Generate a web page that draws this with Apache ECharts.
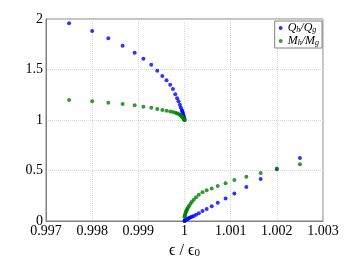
<!DOCTYPE html>
<html><head><meta charset="utf-8">
<script src="https://cdn.jsdelivr.net/npm/echarts@6/dist/echarts.min.js"></script>
<style>html,body{margin:0;padding:0;background:#fff}#c{width:357px;height:257px}</style>
</head><body><div id="c"></div>
<script>
// x-values of the branch below 1 and the branch above 1
const xLeft  = [0.9975,0.998,0.99835,0.99866,0.99892,0.99911,0.99928,0.99941,0.99952,0.99961,0.99969,0.99975,0.9998,0.99984,0.99987,0.9999,0.99992,0.99994,0.99995,0.99996,0.99997,0.99998,0.99999,0.999995,1.0];
const qLeft  = [1.957,1.88,1.81,1.736,1.667,1.607,1.548,1.488,1.436,1.393,1.35,1.307,1.255,1.215,1.185,1.15,1.125,1.1,1.088,1.075,1.06,1.045,1.028,1.015,1.0];
const mLeft  = [1.198,1.185,1.171,1.158,1.145,1.132,1.122,1.109,1.099,1.092,1.085,1.078,1.072,1.066,1.06,1.052,1.046,1.038,1.033,1.027,1.021,1.015,1.008,1.004,1.0];
const xRight = [1.0025,1.002,1.00165,1.00134,1.00108,1.00089,1.00072,1.00059,1.00048,1.00039,1.00031,1.00025,1.0002,1.00016,1.00013,1.0001,1.00008,1.00006,1.00005,1.00004,1.00003,1.00002,1.00001,1.000005,1.0];
const qRight = [0.624,0.512,0.415,0.337,0.272,0.222,0.18,0.147,0.12,0.098,0.077,0.062,0.05,0.042,0.036,0.03,0.025,0.02,0.017,0.014,0.011,0.008,0.004,0.002,0.0];
const mRight = [0.561,0.52,0.475,0.439,0.406,0.373,0.347,0.323,0.304,0.285,0.26,0.235,0.21,0.19,0.172,0.152,0.137,0.12,0.11,0.1,0.088,0.075,0.06,0.05,0.04];
const xTicks = [0.997,0.998,0.999,1,1.001,1.002,1.003];
const yTicks = [0,0.5,1,1.5,2];
const seriesNames = ['Qh/Qg','Mh/Mg'];

const pairs = (xs, ys) => xs.map((x, i) => [x, ys[i]]);
const serif = "Liberation Serif";
const legendRich = {
  i: {fontFamily: serif, fontStyle: 'italic', fontSize: 12, lineHeight: 12, color: '#000'},
  s: {fontFamily: serif, fontStyle: 'italic', fontSize: 8, lineHeight: 8, verticalAlign: 'bottom', color: '#000'}
};
const legendText = {
  'Qh/Qg': '{i|Q}{s|h}{i|/Q}{s|g}',
  'Mh/Mg': '{i|M}{s|h}{i|/M}{s|g}'
};
const chart = echarts.init(document.getElementById('c'), null, {renderer: 'canvas'});
chart.setOption({
  animation: false,
  backgroundColor: '#fff',
  grid: {left: 46, right: 34, top: 19, bottom: 36, outerBoundsMode: 'none', containLabel: false,
         show: true, borderColor: '#808080', borderWidth: 1, backgroundColor: 'transparent'},
  legend: {
    data: seriesNames,
    orient: 'vertical', right: 35, top: 21,
    backgroundColor: '#fff', borderColor: '#808080', borderWidth: 1, borderRadius: 0,
    padding: [1, 3, 1, 4], itemGap: 1, itemWidth: 4, itemHeight: 4, icon: 'circle',
    formatter: n => legendText[n],
    textStyle: {rich: legendRich}
  },
  xAxis: {
    type: 'value', min: 0.997, max: 1.003, interval: 0.001,
    name: '{e|ϵ / ϵ}{s|0}', nameLocation: 'middle', nameGap: 20,
    nameTextStyle: {rich: {
      e: {fontFamily: serif, fontSize: 16, lineHeight: 16, color: '#000'},
      s: {fontFamily: serif, fontSize: 11, lineHeight: 11, verticalAlign: 'bottom', color: '#000'}
    }},
    axisLine: {show: true, lineStyle: {color: '#808080'}},
    axisTick: {show: false},
    axisLabel: {margin: 3, fontFamily: serif, fontSize: 14, color: '#000',
      formatter: v => { const r = xTicks.find(t => Math.abs(t - v) < 1e-7); return String(r !== undefined ? r : parseFloat(v.toFixed(3))); }},
    splitLine: {show: true, lineStyle: {color: '#d8d8d8', type: 'dotted'}}
  },
  yAxis: {
    type: 'value', min: 0, max: 2, interval: 0.5,
    axisLine: {show: true, lineStyle: {color: '#808080'}},
    axisTick: {show: false},
    axisLabel: {margin: 3, fontFamily: serif, fontSize: 14, color: '#000',
      formatter: v => { const r = yTicks.find(t => Math.abs(t - v) < 1e-7); return String(r !== undefined ? r : v); }},
    splitLine: {show: true, lineStyle: {color: '#d8d8d8', type: 'dotted'}}
  },
  series: [
    {name: seriesNames[0], type: 'scatter', symbol: 'circle', symbolSize: 4, itemStyle: {color: '#0000ff'},
     data: pairs(xLeft, qLeft).concat(pairs(xRight, qRight))},
    {name: seriesNames[1], type: 'scatter', symbol: 'circle', symbolSize: 4, itemStyle: {color: '#008000'},
     data: pairs(xLeft, mLeft).concat(pairs(xRight, mRight))}
  ]
});
</script></body></html>
